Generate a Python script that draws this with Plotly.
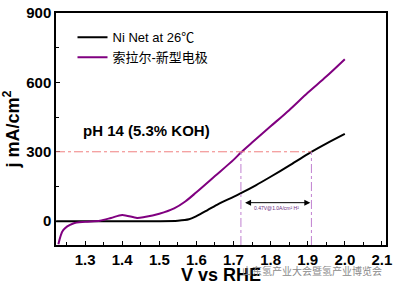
import plotly.graph_objects as go

# Data
ni_v = [1.222, 1.30, 1.40, 1.50, 1.55, 1.58, 1.60, 1.63, 1.66, 1.70, 1.72, 1.76, 1.80, 1.85, 1.90, 1.95, 2.00]
ni_j = [0, 0, 0, 0, 2, 8, 22, 48, 75, 105, 121, 155, 192, 240, 290, 335, 377]

sol_v = [1.228, 1.241, 1.268, 1.30, 1.34, 1.37, 1.40, 1.44, 1.46, 1.50, 1.54, 1.57, 1.60, 1.65, 1.70, 1.72, 1.75, 1.80, 1.85, 1.90, 1.95, 2.00]
sol_j = [-100, -39, -10, -3, 2, 14, 27, 14, 18, 32, 55, 85, 125, 195, 265, 297, 340, 410, 480, 555, 625, 700]

ref_j = 300
ref_v1 = 1.72
ref_v2 = 1.91
arrow_j = 80

x_ticks = [1.3, 1.4, 1.5, 1.6, 1.7, 1.8, 1.9, 2.0, 2.1]
x_ticklabels = ["1.3", "1.4", "1.5", "1.6", "1.7", "1.8", "1.9", "2.0", "2.1"]
y_ticks = [0, 300, 600, 900]
y_ticklabels = ["0", "300", "600", "900"]

x_range = [1.2216, 2.111]
y_range = [-103, 900]

fig = go.Figure()
fig.add_trace(go.Scatter(x=ni_v, y=ni_j, mode="lines", name="Ni Net at 26℃",
                         line=dict(color="black", width=2, shape="spline", smoothing=0.8)))
fig.add_trace(go.Scatter(x=sol_v, y=sol_j, mode="lines", name="索拉尔-新型电极",
                         line=dict(color="#800080", width=2, shape="spline", smoothing=0.8)))

# reference lines
fig.add_shape(type="line", x0=x_range[0], x1=ref_v2, y0=ref_j, y1=ref_j,
              line=dict(color="#f08080", width=1, dash="dashdot"))
for v in (ref_v1, ref_v2):
    fig.add_shape(type="line", x0=v, x1=v, y0=y_range[0], y1=ref_j,
                  line=dict(color="#c080d0", width=1, dash="dashdot"))

fig.add_annotation(x=ref_v2 - 0.003, y=arrow_j, ax=ref_v1 + 0.003, ay=arrow_j, xref="x", yref="y",
                   axref="x", ayref="y", text=" ", showarrow=True, arrowhead=2, arrowside="end+start",
                   arrowsize=1.2, arrowwidth=1, arrowcolor="black")
fig.add_annotation(x=(ref_v1 + ref_v2) / 2, y=arrow_j - 25, xref="x", yref="y", text="0.47V@1.0A/cm² H²",
                   showarrow=False, font=dict(size=5, color="#6a2a80", family="Liberation Sans"))

fig.add_annotation(x=1.29, y=390, xref="x", yref="y", xanchor="left", text="<b>pH 14 (5.3% KOH)</b>",
                   showarrow=False, font=dict(size=15, color="black", family="Liberation Sans"))

fig.add_annotation(x=0.995, y=-0.11, xref="paper", yref="paper", xanchor="right", yanchor="middle",
                   text="山东氢产业大会暨氢产业博览会", showarrow=False,
                   font=dict(size=10, color="#8a8a8a", family="Noto Sans CJK SC"))

axis_common = dict(showline=True, linecolor="black", linewidth=1.5, mirror=True, ticks="inside",
                   ticklen=4, tickwidth=1, tickcolor="black", showgrid=False, zeroline=False,
                   automargin=False,
                   tickfont=dict(size=15, color="black", family="Liberation Sans"))

fig.update_xaxes(range=x_range, tickvals=x_ticks, ticktext=["<b>%s</b>" % t for t in x_ticklabels],
                 minor=dict(dtick=0.05, tick0=1.3, ticks="inside", ticklen=3, tickcolor="black"),
                 title=dict(text="<b>V vs RHE</b>", font=dict(size=18, color="black", family="Liberation Sans"), standoff=1),
                 **axis_common)
fig.update_yaxes(range=y_range, tickvals=y_ticks, ticktext=["<b>%s</b>" % t for t in y_ticklabels],
                 minor=dict(dtick=150, tick0=0, ticks="inside", ticklen=3, tickcolor="black"),
                 title=dict(text="<b>j mA/cm<sup>2</sup></b>", font=dict(size=18, color="black", family="Liberation Sans"), standoff=4),
                 **axis_common)

fig.update_layout(width=401, height=285, margin=dict(l=56, r=15, t=13, b=40),
                  plot_bgcolor="white", paper_bgcolor="white",
                  legend=dict(x=0.05, y=0.96, xanchor="left", yanchor="top", bgcolor="rgba(0,0,0,0)",
                              font=dict(size=13, color="black", family="Liberation Sans, Noto Sans CJK SC"),
                              tracegroupgap=0, itemwidth=30))

fig.write_html("out.html")
